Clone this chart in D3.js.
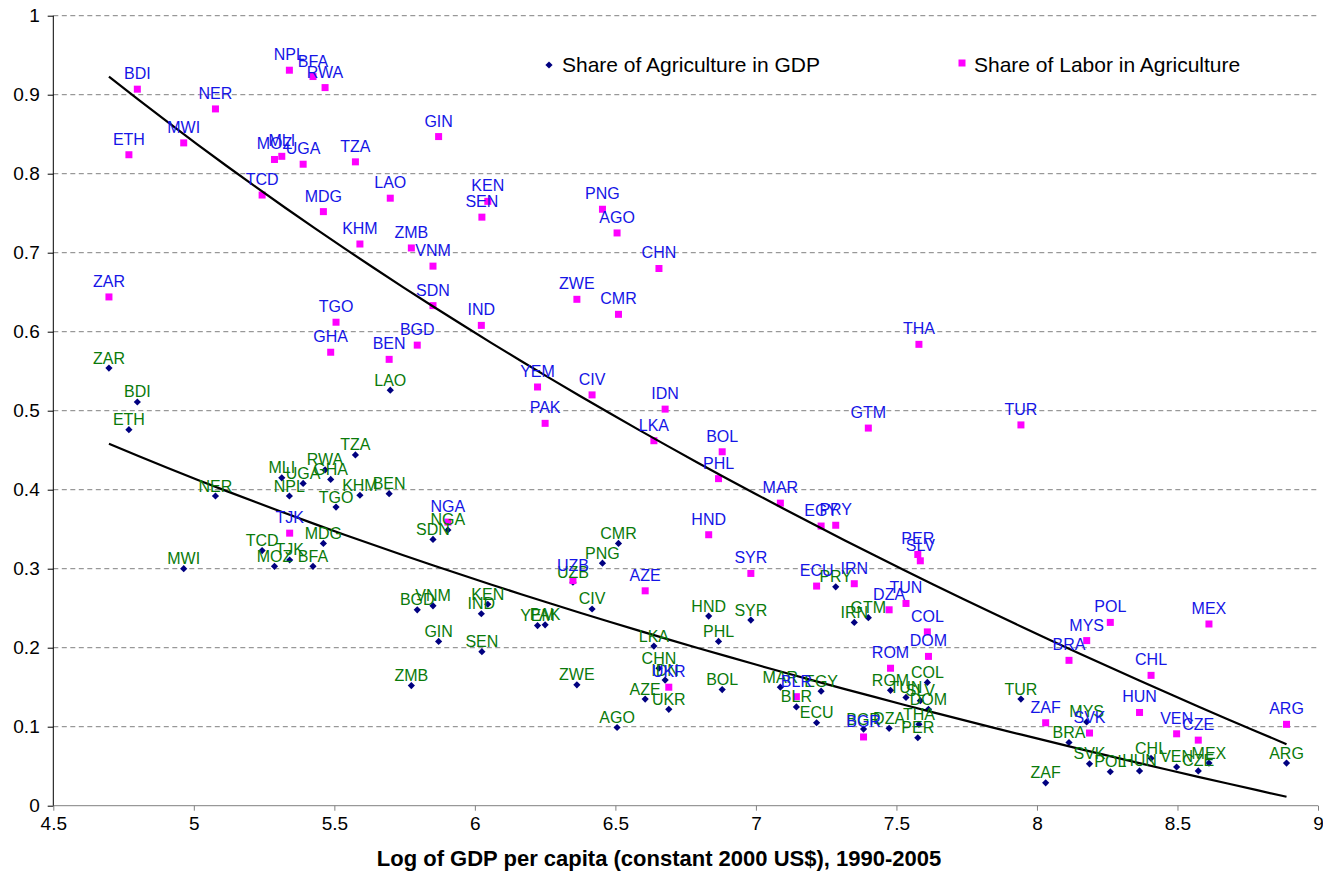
<!DOCTYPE html>
<html>
<head>
<meta charset="utf-8">
<script src="https://cdn.jsdelivr.net/npm/d3@7"></script>
<style>
  body { margin: 0; background: #fff; }
  text { font-family: Arial, "Liberation Sans", sans-serif; }
</style>
</head>
<body>
<svg id="chart" width="1323" height="872"></svg>
<script>
// country codes, log GDP per capita and the two shares
var countries = ['ZAR', 'BDI', 'ETH', 'NER', 'MWI', 'NPL', 'BFA', 'RWA', 'MOZ', 'MLI',
  'UGA', 'TZA', 'TCD', 'LAO', 'MDG', 'KHM', 'ZMB', 'VNM', 'SDN', 'TGO',
  'GHA', 'BEN', 'BGD', 'GIN', 'NGA', 'TJK', 'KEN', 'SEN', 'PNG', 'AGO',
  'CHN', 'ZWE', 'CMR', 'IND', 'YEM', 'CIV', 'PAK', 'IDN', 'LKA', 'BOL',
  'PHL', 'MAR', 'HND', 'EGY', 'PRY', 'SYR', 'ECU', 'UZB', 'AZE', 'UKR',
  'BLR', 'PER', 'SLV', 'IRN', 'TUN', 'DZA', 'COL', 'DOM', 'ROM', 'BGR',
  'GTM', 'THA', 'TUR', 'POL', 'MEX', 'MYS', 'BRA', 'CHL', 'HUN', 'ZAF',
  'ARG', 'SVK', 'VEN', 'CZE'];
var logGdp = [4.698, 4.799, 4.769, 5.077, 4.964, 5.340, 5.424, 5.467, 5.287, 5.313,
  5.389, 5.575, 5.243, 5.699, 5.461, 5.591, 5.774, 5.851, 5.851, 5.506,
  5.487, 5.695, 5.795, 5.871, 5.904, 5.341, 6.046, 6.025, 6.454, 6.506,
  6.655, 6.363, 6.511, 6.023, 6.223, 6.417, 6.250, 6.677, 6.637, 6.880,
  6.867, 7.087, 6.832, 7.232, 7.284, 6.982, 7.216, 6.349, 6.606, 6.690,
  7.144, 7.576, 7.585, 7.350, 7.534, 7.474, 7.610, 7.614, 7.479, 7.383,
  7.400, 7.580, 7.943, 8.261, 8.612, 8.177, 8.114, 8.406, 8.365, 8.031,
  8.888, 8.187, 8.497, 8.574];
var gdpShare = [0.554, 0.511, 0.476, 0.392, 0.300, 0.392, 0.303, 0.425, 0.303, 0.415,
  0.408, 0.444, 0.323, 0.526, 0.332, 0.393, 0.152, 0.253, 0.337, 0.378,
  0.413, 0.395, 0.248, 0.208, 0.349, 0.311, 0.255, 0.195, 0.307, 0.099,
  0.174, 0.153, 0.332, 0.243, 0.228, 0.249, 0.229, 0.159, 0.202, 0.147,
  0.208, 0.150, 0.240, 0.145, 0.277, 0.235, 0.105, 0.283, 0.135, 0.122,
  0.125, 0.086, 0.133, 0.232, 0.137, 0.098, 0.156, 0.122, 0.146, 0.097,
  0.238, 0.103, 0.135, 0.043, 0.054, 0.106, 0.080, 0.060, 0.044, 0.029,
  0.054, 0.053, 0.049, 0.044];
var laborShare = [0.644, 0.907, 0.824, 0.882, 0.839, 0.931, 0.923, 0.909, 0.818, 0.822,
  0.812, 0.815, 0.773, 0.769, 0.752, 0.711, 0.706, 0.683, 0.633, 0.612,
  0.574, 0.565, 0.583, 0.847, 0.359, 0.345, 0.765, 0.745, 0.755, 0.725,
  0.680, 0.641, 0.622, 0.608, 0.530, 0.520, 0.484, 0.502, 0.462, 0.448,
  0.414, 0.383, 0.343, 0.354, 0.355, 0.294, 0.278, 0.285, 0.272, 0.150,
  0.138, 0.318, 0.310, 0.281, 0.256, 0.248, 0.220, 0.189, 0.174, 0.087,
  0.478, 0.584, 0.482, 0.232, 0.230, 0.209, 0.184, 0.165, 0.118, 0.105,
  0.103, 0.092, 0.091, 0.083];
var seriesNames = ['Share of Agriculture in GDP', 'Share of Labor in Agriculture'];
var xTicks = [4.5, 5, 5.5, 6, 6.5, 7, 7.5, 8, 8.5, 9];
var yTicks = [0, 0.1, 0.2, 0.3, 0.4, 0.5, 0.6, 0.7, 0.8, 0.9, 1];

var margin = {
  top: 15.7,
  right: 5,
  bottom: 66.3,
  left: 53.3
};
var width = 1323 - margin.left - margin.right;
var height = 872 - margin.top - margin.bottom;

var svg = d3.select('#chart').append('g')
  .attr('transform', 'translate(' + margin.left + ', ' + margin.top + ')');

var xScale = d3.scaleLinear()
  .domain([4.5, 9])
  .range([0, width]);
var yScale = d3.scaleLinear()
  .domain([0, 1])
  .range([height, 0]);

var gdpData = countries.map(function (c, i) {
  return {name: c, x: logGdp[i], y: gdpShare[i]};
});
var laborData = countries.map(function (c, i) {
  return {name: c, x: logGdp[i], y: laborShare[i]};
});

// gridlines
svg.append('g')
  .selectAll('line')
  .data(yTicks.filter(function (d) { return d > 0; }))
  .enter()
  .append('line')
  .attr('x1', 0)
  .attr('x2', width)
  .attr('y1', function (d) { return yScale(d); })
  .attr('y2', function (d) { return yScale(d); })
  .attr('stroke', '#808080')
  .attr('stroke-dasharray', '5,3.5');

// x axis
var xAxis = d3.axisBottom(xScale)
  .tickValues(xTicks)
  .tickSize(5)
  .tickPadding(6)
  .tickFormat(d3.format('~g'));
var gx = svg.append('g')
  .attr('transform', 'translate(0, ' + height + ')')
  .call(xAxis);
gx.select('.domain').attr('stroke', '#808080').attr('d', 'M0,0H' + width);
gx.selectAll('.tick line').attr('stroke', '#808080');
gx.selectAll('.tick text')
  .attr('font-size', '19px')
  .attr('fill', '#000')
  .attr('font-family', 'Arial, "Liberation Sans", sans-serif');

// y axis
var yAxis = d3.axisLeft(yScale)
  .tickValues(yTicks)
  .tickSize(5.6)
  .tickPadding(8)
  .tickFormat(d3.format('~g'));
var gy = svg.append('g')
  .call(yAxis);
gy.select('.domain').attr('stroke', '#000').attr('d', 'M0,0V' + height);
gy.selectAll('.tick line').attr('stroke', '#000');
gy.selectAll('.tick text')
  .attr('font-size', '19px')
  .attr('fill', '#000')
  .attr('font-family', 'Arial, "Liberation Sans", sans-serif');

// markers
var diamond = 'M0,-3.6L3.6,0L0,3.6L-3.6,0Z';
svg.append('g')
  .selectAll('path')
  .data(gdpData)
  .enter()
  .append('path')
  .attr('d', diamond)
  .attr('transform', function (d) {
    return 'translate(' + xScale(d.x) + ',' + yScale(d.y) + ')';
  })
  .attr('fill', '#000080');

svg.append('g')
  .selectAll('rect')
  .data(laborData)
  .enter()
  .append('rect')
  .attr('x', function (d) { return xScale(d.x) - 3.5; })
  .attr('y', function (d) { return yScale(d.y) - 3.5; })
  .attr('width', 7)
  .attr('height', 7)
  .attr('fill', '#ff00ff');

// logarithmic trendlines, least squares of y on ln(x)
function logFit(data) {
  var mx = d3.mean(data, function (d) { return Math.log(d.x); });
  var my = d3.mean(data, function (d) { return d.y; });
  var sxy = d3.sum(data, function (d) { return (Math.log(d.x) - mx) * (d.y - my); });
  var sxx = d3.sum(data, function (d) { return Math.pow(Math.log(d.x) - mx, 2); });
  var b = sxy / sxx;
  var a = my - b * mx;
  var x0 = d3.min(data, function (d) { return d.x; });
  var x1 = d3.max(data, function (d) { return d.x; });
  return d3.range(0, 41).map(function (k) {
    var x = x0 + (x1 - x0) * k / 40;
    return {x: x, y: a + b * Math.log(x)};
  });
}
var trendLine = d3.line()
  .x(function (d) { return xScale(d.x); })
  .y(function (d) { return yScale(d.y); });

[gdpData, laborData].forEach(function (data) {
  svg.append('path')
    .datum(logFit(data))
    .attr('d', trendLine)
    .attr('fill', 'none')
    .attr('stroke', '#000')
    .attr('stroke-width', 2.2);
});

// data labels
svg.append('g')
  .selectAll('text')
  .data(gdpData)
  .enter()
  .append('text')
  .attr('x', function (d) { return xScale(d.x); })
  .attr('y', function (d) { return yScale(d.y) - 4.5; })
  .attr('text-anchor', 'middle')
  .attr('font-size', '16px')
  .attr('fill', '#0a7a0a')
  .text(function (d) { return d.name; });

svg.append('g')
  .selectAll('text')
  .data(laborData)
  .enter()
  .append('text')
  .attr('x', function (d) { return xScale(d.x); })
  .attr('y', function (d) { return yScale(d.y) - 10; })
  .attr('text-anchor', 'middle')
  .attr('font-size', '16px')
  .attr('fill', '#1515e6')
  .text(function (d) { return d.name; });

// legend
var root = d3.select('#chart');
root.append('path')
  .attr('d', diamond)
  .attr('transform', 'translate(549, 65)')
  .attr('fill', '#000080');
root.append('text')
  .attr('x', 562)
  .attr('y', 71.5)
  .attr('font-size', '21px')
  .text(seriesNames[0]);
root.append('rect')
  .attr('x', 958.5)
  .attr('y', 59.5)
  .attr('width', 7)
  .attr('height', 7)
  .attr('fill', '#ff00ff');
root.append('text')
  .attr('x', 974)
  .attr('y', 71.5)
  .attr('font-size', '21px')
  .text(seriesNames[1]);

// axis title
root.append('text')
  .attr('x', 659)
  .attr('y', 866)
  .attr('text-anchor', 'middle')
  .attr('font-size', '22px')
  .attr('font-weight', 'bold')
  .text('Log of GDP per capita (constant 2000 US$), 1990-2005');
</script>
</body>
</html>
